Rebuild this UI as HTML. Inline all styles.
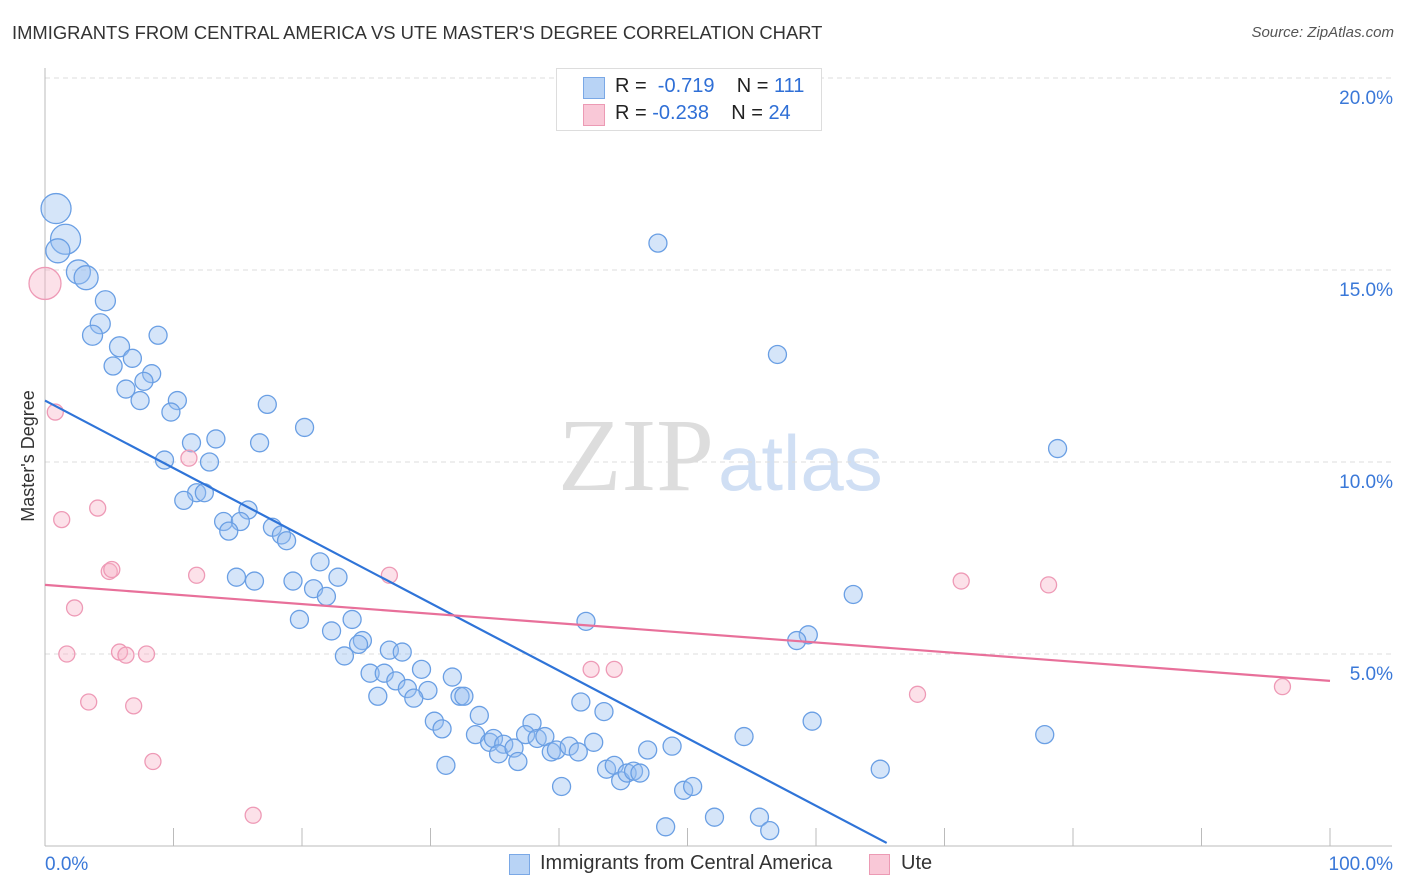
<!DOCTYPE html>
<html><head><meta charset="utf-8">
<style>
body{margin:0;background:#fff;font-family:"Liberation Sans",sans-serif;}
#wrap{position:relative;width:1406px;height:892px;overflow:hidden;}
.t{position:absolute;white-space:nowrap;}
</style></head>
<body>
<div id="wrap">
<div class="t" style="left:12px;top:22px;font-size:18.4px;color:#333;">IMMIGRANTS FROM CENTRAL AMERICA VS UTE MASTER'S DEGREE CORRELATION CHART</div>
<div class="t" style="right:12px;top:24px;font-size:15px;color:#555;font-style:italic;">Source: ZipAtlas.com</div>
<svg id="chart" width="1406" height="892" style="position:absolute;left:0;top:0">
<text x="714" y="490" text-anchor="end" font-family="Liberation Serif,serif" font-size="104" fill="#ddd">ZIP</text>
<text x="718" y="490" font-family="Liberation Sans,sans-serif" font-size="78" fill="#d0dff4">atlas</text>
</svg>
<div style="position:absolute;left:556px;top:68px;width:264px;height:61px;border:1px solid #ddd;background:#fff;">
  <div style="position:absolute;left:26px;top:8px;width:20px;height:20px;background:#b8d3f5;border:1px solid #7aa8e6;"></div>
  <div class="t" style="left:58px;top:6px;font-size:20px;color:#222;">R = &nbsp;<span style="color:#2f6fd6">-0.719</span>&nbsp;&nbsp;&nbsp; N = <span style="color:#2f6fd6">111</span></div>
  <div style="position:absolute;left:26px;top:35px;width:20px;height:20px;background:#f9c8d7;border:1px solid #ec9ab4;"></div>
  <div class="t" style="left:58px;top:33px;font-size:20px;color:#222;">R = <span style="color:#2f6fd6">-0.238</span>&nbsp;&nbsp;&nbsp; N = <span style="color:#2f6fd6">24</span></div>
</div>
<div style="position:absolute;left:509px;top:854px;width:19px;height:19px;background:#b8d3f5;border:1px solid #7aa8e6;"></div>
<div class="t" style="left:540px;top:852px;font-size:20px;color:#333;">Immigrants from Central America</div>
<div style="position:absolute;left:869px;top:854px;width:19px;height:19px;background:#f9c8d7;border:1px solid #ec9ab4;"></div>
<div class="t" style="left:901px;top:852px;font-size:20px;color:#333;">Ute</div>
</div>
<script>
const yTicks=[5,10,15,20];
const yTickLabels=["5.0%","10.0%","15.0%","20.0%"];
const xTickLabels=["0.0%","100.0%"];
const blueX=[0.86,1.6,1.0,2.6,3.2,4.7,4.3,3.7,8.8,5.8,6.8,5.3,8.3,7.7,6.3,7.4,10.3,17.3,9.8,20.2,11.4,13.3,16.7,9.3,12.8,11.8,12.4,10.8,15.8,13.9,15.2,14.3,17.7,18.4,18.8,21.4,14.9,16.3,19.3,22.8,20.9,21.9,19.8,23.9,22.3,24.7,24.4,23.3,26.8,27.8,25.3,26.4,29.3,27.3,31.7,25.9,28.2,29.8,28.7,32.3,32.6,33.8,30.3,30.9,42.1,41.7,43.5,33.5,34.6,34.9,35.7,35.3,36.5,36.8,37.9,37.4,38.3,38.9,39.4,39.8,40.8,41.5,42.7,31.2,40.2,43.7,44.3,44.8,45.3,45.8,46.3,46.9,48.8,49.7,50.4,48.3,52.1,55.6,56.4,47.7,57.0,62.9,59.4,58.5,59.7,54.4,65.0,78.8,77.8];
const blueY=[16.6,15.8,15.5,14.95,14.8,14.2,13.6,13.3,13.3,13.0,12.7,12.5,12.3,12.1,11.9,11.6,11.6,11.5,11.3,10.9,10.5,10.6,10.5,10.05,10.0,9.2,9.2,9.0,8.75,8.45,8.45,8.2,8.3,8.1,7.95,7.4,7.0,6.9,6.9,7.0,6.7,6.5,5.9,5.9,5.6,5.35,5.25,4.95,5.1,5.05,4.5,4.5,4.6,4.3,4.4,3.9,4.1,4.05,3.85,3.9,3.9,3.4,3.25,3.05,5.85,3.75,3.5,2.9,2.7,2.8,2.65,2.4,2.55,2.2,3.2,2.9,2.8,2.85,2.45,2.5,2.6,2.45,2.7,2.1,1.55,2.0,2.1,1.7,1.9,1.95,1.9,2.5,2.6,1.45,1.55,0.5,0.75,0.75,0.4,15.7,12.8,6.55,5.5,5.35,3.25,2.85,2.0,10.35,2.9];
const blueW=[3,3,2,2,2,1.5,1.5,1.5,1,1.5,1,1,1,1,1,1,1,1,1,1];
const pinkX=[0,0.8,1.3,4.1,2.3,5.0,5.2,1.7,5.8,6.3,7.9,3.4,6.9,8.4,11.2,11.8,16.2,26.8,42.5,44.3,67.9,71.3,78.1,96.3];
const pinkY=[14.65,11.3,8.5,8.8,6.2,7.15,7.2,5.0,5.05,4.97,5.0,3.75,3.65,2.2,10.1,7.05,0.8,7.05,4.6,4.6,3.95,6.9,6.8,4.15];
const pinkW=[3];
const blueTrend=[[0,11.6],[65.5,0.08]];
const pinkTrend=[[0,6.8],[100,4.3]];

const NS="http://www.w3.org/2000/svg";
const svg=document.getElementById('chart');
const X0=45,X1=1330,YB=846,PXY=38.4;
const sx=v=>X0+(X1-X0)*v/100;
const sy=v=>YB-v*PXY;
function el(t,a){const e=document.createElementNS(NS,t);for(const k in a)e.setAttribute(k,a[k]);svg.appendChild(e);return e;}
yTicks.forEach((t,i)=>{
  const g=el('line',{x1:45,x2:1392,y1:sy(t),y2:sy(t),stroke:'#ddd','stroke-dasharray':'5,4'});
  
  
  const l=el('text',{x:1393,y:sy(t)+26,'text-anchor':'end','font-size':19,fill:'#3a78d8'});
  l.textContent=yTickLabels[i];
  
  
});
const ya=el('line',{x1:45,x2:45,y1:68,y2:846,stroke:'#bbb'});


const xa=el('line',{x1:45,x2:1392,y1:846,y2:846,stroke:'#bbb'});


for(let i=0;i<=10;i++){
  const tk=el('line',{x1:sx(i*10),x2:sx(i*10),y1:828,y2:846,stroke:'#bbb'});
  
  
}
[[45,'start',0],[1393,'end',1]].forEach(([x,a,i])=>{
  const t=el('text',{x:x,y:870,'text-anchor':a,'font-size':19,fill:'#3a78d8'});
  t.textContent=xTickLabels[i];
  
  
});
const yt=el('text',{x:34,y:456,'text-anchor':'middle','font-size':18,fill:'#333',transform:'rotate(-90 34 456)'});
yt.textContent="Master's Degree";


blueX.forEach((x,i)=>{
  const w=blueW[i]||1;
  const c=el('circle',{cx:sx(x),cy:sy(blueY[i]),r:w>=3?15:w>=2?12:w>=1.5?10:9,fill:'rgba(150,190,240,0.4)',stroke:'#6a9fe4','stroke-width':1.3});
  
  
});
pinkX.forEach((x,i)=>{
  const w=pinkW[i]||1;
  const c=el('circle',{cx:sx(x),cy:sy(pinkY[i]),r:w>=3?16:8,fill:'rgba(248,180,200,0.4)',stroke:'#ee9ab6','stroke-width':1.3});
  
  
});
const bl=el('line',{x1:sx(blueTrend[0][0]),y1:sy(blueTrend[0][1]),x2:sx(blueTrend[1][0]),y2:sy(blueTrend[1][1]),stroke:'#2f74d8','stroke-width':2.2});


const pl=el('line',{x1:sx(pinkTrend[0][0]),y1:sy(pinkTrend[0][1]),x2:sx(pinkTrend[1][0]),y2:sy(pinkTrend[1][1]),stroke:'#e8709a','stroke-width':2.2});


</script>
</body></html>
